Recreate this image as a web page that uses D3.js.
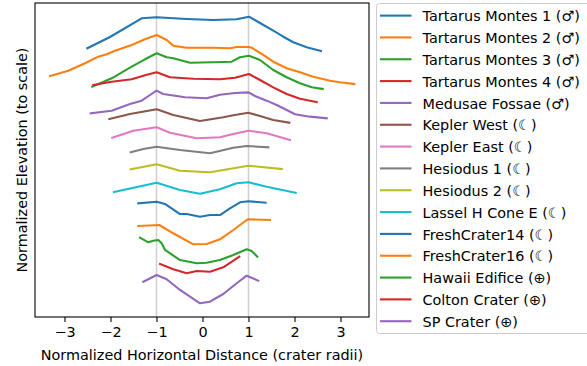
<!DOCTYPE html>
<html>
<head>
<meta charset="utf-8">
<script src="https://cdn.jsdelivr.net/npm/d3@7"></script>
<style>
  html, body { margin: 0; padding: 0; background: #fff; }
  svg { display: block; font-family: "DejaVu Sans", sans-serif; }
</style>
</head>
<body>
<svg id="chart" width="587" height="366"></svg>
<script>
// ---- Data ----
const seriesNames = [
  "Tartarus Montes 1 (\u2642)", "Tartarus Montes 2 (\u2642)", "Tartarus Montes 3 (\u2642)",
  "Tartarus Montes 4 (\u2642)", "Medusae Fossae (\u2642)", "Kepler West (\u263E)",
  "Kepler East (\u263E)", "Hesiodus 1 (\u263E)", "Hesiodus 2 (\u263E)",
  "Lassel H Cone E (\u263E)", "FreshCrater14 (\u263E)", "FreshCrater16 (\u263E)",
  "Hawaii Edifice (\u2295)", "Colton Crater (\u2295)", "SP Crater (\u2295)"
];
const xTicks = [-3, -2, -1, 0, 1, 2, 3];
const rimLines = [-1, 1];

// profiles: [horizontal distance (crater radii), stacked normalized elevation]
const tartarus1 = [[-2.504,5.841],[-2.011,6.087],[-1.322,6.493],[-0.996,6.515],[-0.343,6.478],[0.235,6.457],[0.743,6.472],[1.011,6.528],[1.25,6.391],[1.539,6.224],[1.757,6.093],[1.974,5.972],[2.265,5.863],[2.576,5.783]];
const tartarus2 = [[-3.315,5.239],[-2.917,5.354],[-2.554,5.515],[-2.265,5.659],[-2.083,5.711],[-1.902,5.789],[-1.539,5.913],[-1.25,6.037],[-0.996,6.130],[-0.778,6.022],[-0.635,5.898],[-0.343,5.854],[0.235,5.854],[0.598,5.841],[0.743,5.870],[1.011,5.870],[1.07,5.854],[1.322,5.696],[1.539,5.550],[1.830,5.407],[2.120,5.320],[2.409,5.224],[2.772,5.137],[2.989,5.102],[3.3,5.065]];
const tartarus3 = [[-2.396,5.007],[-1.974,5.189],[-1.539,5.441],[-1.25,5.602],[-0.996,5.733],[-0.778,5.646],[-0.635,5.624],[-0.272,5.528],[0.235,5.537],[0.635,5.550],[0.815,5.646],[1.011,5.680],[1.25,5.587],[1.539,5.370],[1.830,5.211],[2.120,5.080],[2.374,4.993],[2.613,4.957]];
const tartarus4 = [[-2.374,5.043],[-1.974,5.115],[-1.539,5.167],[-1.25,5.254],[-0.996,5.320],[-0.707,5.211],[-0.2,5.180],[0.380,5.167],[0.707,5.202],[1.011,5.283],[1.25,5.152],[1.539,4.993],[1.830,4.848],[2.120,4.746],[2.483,4.674]];
const medusae = [[-2.430,4.428],[-1.974,4.485],[-1.576,4.630],[-1.322,4.703],[-1.141,4.826],[-1.0,4.920],[-0.852,4.848],[-0.707,4.826],[-0.380,4.776],[0.091,4.754],[0.380,4.833],[0.707,4.870],[1.004,4.884],[1.141,4.804],[1.396,4.703],[1.613,4.609],[1.830,4.5],[2.011,4.407],[2.337,4.355],[2.7,4.320]];
const keplerWest = [[-2.026,4.304],[-1.576,4.413],[-0.996,4.515],[-0.635,4.391],[-0.054,4.261],[0.452,4.341],[0.670,4.385],[0.996,4.441],[1.25,4.370],[1.539,4.283],[1.887,4.224]];
const keplerEast = [[-1.961,3.898],[-1.504,4.050],[-0.996,4.124],[-0.707,4.007],[-0.126,3.885],[0.380,3.907],[0.670,3.978],[0.996,4.050],[1.396,3.993],[1.902,3.848]];
const hesiodus1 = [[-1.561,3.580],[-1.287,3.652],[-0.996,3.702],[-0.489,3.630],[0.163,3.559],[0.670,3.680],[0.961,3.717],[1.430,3.689]];
const hesiodus2 = [[-1.561,3.211],[-0.996,3.320],[-0.489,3.180],[0.163,3.146],[0.996,3.289],[1.722,3.217]];
const lasselH = [[-1.924,2.717],[-0.996,2.920],[-0.489,2.761],[-0.054,2.681],[0.380,2.776],[0.743,2.907],[0.996,2.928],[1.396,2.833],[2.026,2.702]];
const fresh14 = [[-1.396,2.472],[-0.996,2.507],[-0.815,2.457],[-0.489,2.239],[-0.343,2.239],[-0.054,2.181],[0.163,2.217],[0.380,2.217],[0.598,2.363],[0.815,2.493],[0.996,2.515],[1.374,2.485]];
const fresh16 = [[-1.396,1.978],[-0.939,2.0],[-0.635,1.820],[-0.2,1.580],[0.091,1.587],[0.380,1.689],[0.670,1.891],[0.961,2.109],[0.996,2.124],[1.467,2.109]];
const hawaii = [[-1.359,1.724],[-1.178,1.624],[-1.070,1.659],[-0.961,1.674],[-0.887,1.602],[-0.815,1.457],[-0.489,1.239],[-0.126,1.167],[0.091,1.180],[0.380,1.239],[0.670,1.348],[0.961,1.472],[1.070,1.435],[1.191,1.311]];
const colton = [[-0.924,1.152],[-0.635,1.037],[-0.343,0.950],[-0.126,1.0],[0.163,0.985],[0.452,1.080],[0.8,1.311]];
const spCrater = [[-1.287,0.767],[-0.996,0.913],[-0.778,0.820],[-0.489,0.587],[-0.054,0.298],[0.163,0.333],[0.452,0.5],[0.743,0.733],[0.961,0.898],[1.213,0.789]];

const seriesData = [tartarus1, tartarus2, tartarus3, tartarus4, medusae, keplerWest, keplerEast,
  hesiodus1, hesiodus2, lasselH, fresh14, fresh16, hawaii, colton, spCrater];

// ---- Styles / layout ----
const palette = ["#1f77b4","#ff7f0e","#2ca02c","#d62728","#9467bd","#8c564b","#e377c2","#7f7f7f","#bcbd22","#17becf"];
const plot = { left: 35, top: 3, right: 369, bottom: 317 };
const fontSize = 14.4;

const svg = d3.select("#chart");
const x = d3.scaleLinear().domain([-3.641, 3.620]).range([plot.left, plot.right]);
const y = d3.scaleLinear().domain([0, 6.826]).range([plot.bottom, plot.top]);

// rim guide lines
svg.append("g").selectAll("line").data(rimLines).join("line")
  .attr("x1", d => x(d)).attr("x2", d => x(d))
  .attr("y1", plot.top).attr("y2", plot.bottom)
  .attr("stroke", "#cfcfcf").attr("stroke-width", 1.5);

// profiles
const line = d3.line().x(d => x(d[0])).y(d => y(d[1]));
svg.append("g").selectAll("path").data(seriesData).join("path")
  .attr("d", line)
  .attr("fill", "none")
  .attr("stroke", (d, i) => palette[i % palette.length])
  .attr("stroke-width", 2.1)
  .attr("stroke-linejoin", "round")
  .attr("stroke-linecap", "square");

// frame
svg.append("rect")
  .attr("x", plot.left).attr("y", plot.top)
  .attr("width", plot.right - plot.left).attr("height", plot.bottom - plot.top)
  .attr("fill", "none").attr("stroke", "#000").attr("stroke-width", 1.1);

// x axis
const xAxis = d3.axisBottom(x).tickValues(xTicks).tickSizeOuter(0).tickSizeInner(4.9).tickPadding(4.5)
  .tickFormat(d => (d < 0 ? "\u2212" : "") + Math.abs(d));
const gx = svg.append("g").attr("transform", `translate(0,${plot.bottom})`).call(xAxis);
gx.select(".domain").remove();
gx.selectAll(".tick line").attr("stroke", "#000").attr("stroke-width", 1.1);
gx.selectAll(".tick text").attr("font-size", fontSize).attr("font-family", "DejaVu Sans").attr("fill", "#000");

// axis labels
svg.append("text")
  .attr("x", (plot.left + plot.right) / 2).attr("y", 359.5)
  .attr("text-anchor", "middle").attr("font-size", fontSize).attr("fill", "#000")
  .text("Normalized Horizontal Distance (crater radii)");
svg.append("text")
  .attr("transform", `translate(26.5,${(plot.top + plot.bottom) / 2}) rotate(-90)`)
  .attr("text-anchor", "middle").attr("font-size", fontSize).attr("fill", "#000")
  .text("Normalized Elevation (to scale)");

// legend
const leg = svg.append("g");
leg.append("rect")
  .attr("x", 376.5).attr("y", 3.5).attr("width", 260).attr("height", 330)
  .attr("rx", 3).attr("ry", 3)
  .attr("fill", "#fff").attr("fill-opacity", 0.8)
  .attr("stroke", "#cccccc").attr("stroke-width", 1);
const rowH = 21.83, firstY = 15.6;
const items = leg.selectAll("g.item").data(seriesNames).join("g").attr("class", "item")
  .attr("transform", (d, i) => `translate(0,${firstY + i * rowH})`);
items.append("line")
  .attr("x1", 380).attr("x2", 411.5).attr("y1", 0).attr("y2", 0)
  .attr("stroke", (d, i) => palette[i % palette.length]).attr("stroke-width", 2.1);
items.append("text")
  .attr("x", 422.5).attr("y", 5.7)
  .attr("font-size", fontSize).attr("fill", "#000")
  .text(d => d);
</script>
</body>
</html>
